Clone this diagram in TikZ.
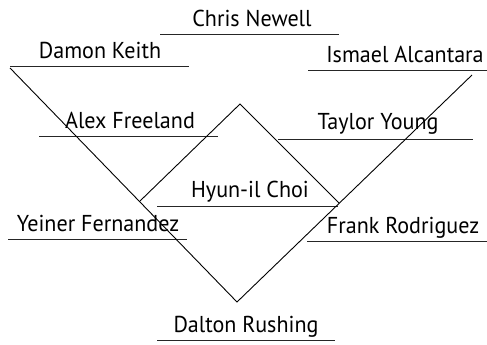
\documentclass[tikz,border=0pt]{standalone}
\usepackage{fontspec}
\setmainfont{PT Sans}[FakeStretch=0.96]
\begin{document}
\begin{tikzpicture}[x=1pt,y=-1pt,
  person/.style={anchor=base,inner sep=0pt,font=\fontsize{23}{23}\selectfont},
  rule/.style={line width=0.9pt,black!85},
  bracketline/.style={line width=0.9pt,black}]
\useasboundingbox (0,0) rectangle (487,345);
% names
\node[person] (chris) at (252,27) {Chris Newell};
\node[person] (damon) at (100,59) {Damon Keith};
\node[person] (ismael) at (405,63) {Ismael Alcantara};
\node[person] (alex) at (130,128) {Alex Freeland};
\node[person] (taylor) at (378,129) {Taylor Young};
\node[person] (hyun) at (250,197) {Hyun-il Choi};
\node[person] (yeiner) at (98,231) {Yeiner Fernandez};
\node[person] (frank) at (403,233) {Frank Rodriguez};
\node[person] (dalton) at (246,332) {Dalton Rushing};
% underline ends
\coordinate (c1) at (160,34);  \coordinate (c2) at (339,34);
\coordinate (d1) at (10,66);   \coordinate (d2) at (189,66);
\coordinate (i1) at (308,70);  \coordinate (i2) at (487,70);
\coordinate (a1) at (39,136);  \coordinate (a2) at (218,136);
\coordinate (t1) at (278,139); \coordinate (t2) at (473,139);
\coordinate (h1) at (157,206); \coordinate (h2) at (338,206);
\coordinate (y1) at (8,239);   \coordinate (y2) at (187,239);
\coordinate (f1) at (307,241); \coordinate (f2) at (487,241);
\coordinate (r1) at (157,340); \coordinate (r2) at (335,340);
\foreach \p in {c,d,i,a,t,h,y,f,r} {\draw[rule] (\p1) -- (\p2);}
% bracket lines
\coordinate (vl) at (10,68);
\coordinate (vb) at (237,302);
\coordinate (vr) at (472,75);
\coordinate (il) at (140,201);
\coordinate (it) at (240,104);
\coordinate (ir) at (339,203);
\draw[bracketline] (vl) -- (vb) -- (vr);
\draw[bracketline] (il) -- (it) -- (ir);
\end{tikzpicture}
\end{document}
